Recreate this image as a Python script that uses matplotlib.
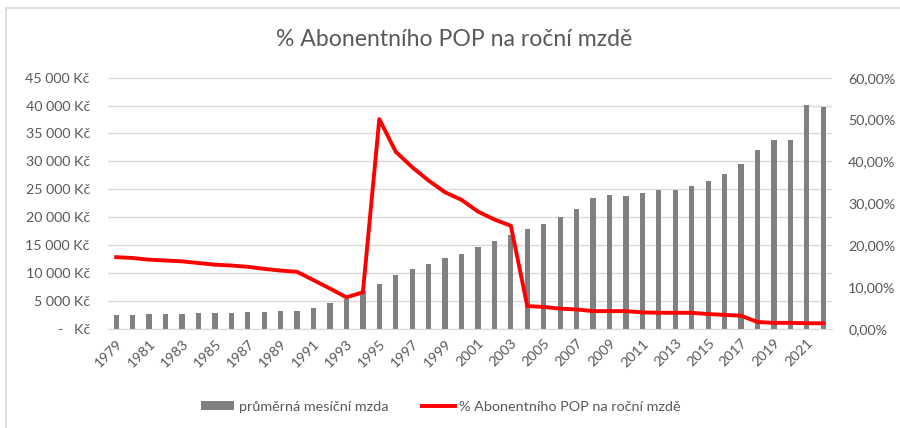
import matplotlib
matplotlib.use("Agg")
import matplotlib.pyplot as plt
from matplotlib.lines import Line2D
from matplotlib.patches import Patch

plt.rcParams['font.family'] = ['Lato', 'DejaVu Sans']

years = list(range(1979, 2023))
wages = [2450, 2450, 2630, 2630, 2630, 2800, 2800, 2800, 2930, 2930,
         3160, 3200, 3700, 4600, 5400, 6700, 8100, 9700, 10700, 11650,
         12600, 13400, 14700, 15650, 16800, 17900, 18850, 20000, 21450, 23400,
         24050, 23750, 24400, 24900, 24900, 25650, 26450, 27650, 29500, 32000,
         33900, 33900, 40050, 39700]
pct = [17.1, 16.9, 16.5, 16.3, 16.1, 15.7, 15.3, 15.1, 14.8, 14.3,
       13.9, 13.6, 11.6, 9.6, 7.5, 8.7, 50.1, 42.3, 38.6, 35.4,
       32.6, 30.8, 28.0, 26.1, 24.6, 5.4, 5.2, 4.8, 4.6, 4.2,
       4.2, 4.2, 3.9, 3.8, 3.8, 3.8, 3.5, 3.3, 3.1, 1.6,
       1.4, 1.4, 1.3, 1.3]
left_ticks = [0, 5000, 10000, 15000, 20000, 25000, 30000, 35000, 40000, 45000]
left_labels = ['-   Kč', '5 000 Kč', '10 000 Kč', '15 000 Kč', '20 000 Kč',
               '25 000 Kč', '30 000 Kč', '35 000 Kč', '40 000 Kč', '45 000 Kč']
right_ticks = [0, 10, 20, 30, 40, 50, 60]
right_labels = ['0,00%', '10,00%', '20,00%', '30,00%', '40,00%', '50,00%', '60,00%']
title = '% Abonentního POP na roční mzdě'
bar_label = 'průměrná mesíční mzda'
line_label = '% Abonentního POP na roční mzdě'

TXT = '#595959'
GRID = '#d9d9d9'

fig = plt.figure(figsize=(9, 4.28), dpi=100)
ax = fig.add_axes([108/900, 1-328.7/428, (831.5-108)/900, (328.7-77.7)/428])
x = list(range(len(years)))
ax.bar(x, wages, width=0.32, color='#808080', zorder=2)
ax.set_xlim(-0.5, len(years)-0.5)
ax.set_ylim(0, 45000)
ax.set_yticks(left_ticks)
ax.set_yticklabels(left_labels)
ax.grid(axis='y', color=GRID, lw=1, zorder=0)
ax.set_axisbelow(True)
for s in ['top', 'right', 'left']:
    ax.spines[s].set_visible(False)
ax.spines['bottom'].set_color(GRID)
ax.tick_params(axis='y', length=0, pad=13, labelsize=10.3, labelcolor=TXT)
ax.set_xticks(x[::2])
ax.set_xticklabels([str(y) for y in years[::2]], rotation=45, ha='right',
                   rotation_mode='anchor')
ax.tick_params(axis='x', length=0, pad=6, labelsize=10.3, labelcolor=TXT)

ax2 = ax.twinx()
ax2.plot(x, pct, color='#ff0000', lw=2.8, solid_joinstyle='round', zorder=3)
ax2.set_ylim(0, 60)
ax2.set_yticks(right_ticks)
ax2.set_yticklabels(right_labels)
for s in ax2.spines.values():
    s.set_visible(False)
ax2.tick_params(axis='y', length=0, pad=12, labelsize=10.3, labelcolor=TXT)

fig.text(454/900, 1-40/428, title, ha='center', va='center', fontsize=16.6, color=TXT)

handles = [Patch(facecolor='#808080', edgecolor='none'),
           Line2D([0], [0], color='#ff0000', lw=2.8)]
fig.legend(handles, [bar_label, line_label], loc='center',
           bbox_to_anchor=(441/900, 1-407/428), ncol=2, frameon=False,
           fontsize=10.4, labelcolor=TXT, handlelength=2.3, handleheight=0.6,
           columnspacing=2.3, handletextpad=0.3)

fig.add_artist(Line2D([6/900, 6/900], [0, 1-8/428], transform=fig.transFigure,
                      color=GRID, lw=1.2))
fig.add_artist(Line2D([6/900, 1], [1-8/428, 1-8/428], transform=fig.transFigure,
                      color=GRID, lw=1.2))

fig.savefig('out.png', dpi=100)
